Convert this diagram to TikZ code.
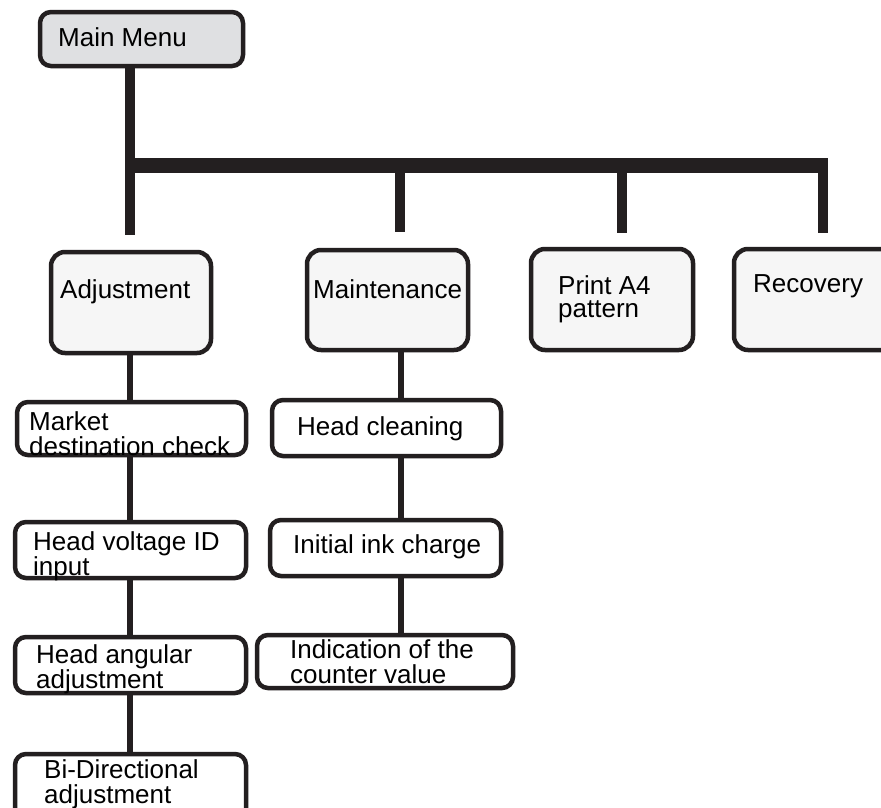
\documentclass[tikz,border=0pt]{standalone}
\usepackage{fontspec}
\setmainfont{Liberation Sans}
\definecolor{ink}{HTML}{231F20}
\definecolor{mainfill}{HTML}{DFE0E2}
\definecolor{topfill}{HTML}{F6F6F6}
\begin{document}
\begin{tikzpicture}[x=1pt,y=-1pt,
  box/.style={draw=ink,line width=4.5pt,rounded corners=11pt,inner sep=0pt},
  mainbox/.style={box,fill=mainfill},
  topbox/.style={box,fill=topfill,rounded corners=14pt},
  subbox/.style={box,fill=white},
  txt/.style={inner sep=0pt,anchor=base west,text=black,
    font=\fontsize{26}{23}\selectfont},
  thick bar/.style={draw=ink,line width=15pt},
  branch/.style={draw=ink,line width=10pt},
  link/.style={draw=ink,line width=6pt}]
\clip (0,0) rectangle (881,807);
\fill[white] (0,0) rectangle (881,807);

% boxes
\node[mainbox,minimum width=203pt,minimum height=54pt] (main) at (141.5,39) {};
\node[topbox,minimum width=160pt,minimum height=101pt] (adj) at (131,302.5) {};
\node[topbox,minimum width=161pt,minimum height=100pt] (maint) at (387.5,300) {};
\node[topbox,minimum width=162pt,minimum height=101pt] (print) at (612,299.5) {};
\node[topbox,minimum width=164pt,minimum height=101pt] (recov) at (816,299.5) {};

\node[subbox,minimum width=229pt,minimum height=53pt] (market) at (131.5,428.5) {};
\node[subbox,minimum width=231pt,minimum height=56pt] (volt) at (130.5,550) {};
\node[subbox,minimum width=231pt,minimum height=56pt] (angle) at (130.5,665) {};
\node[subbox,minimum width=231pt,minimum height=74pt] (bidir) at (130.5,791) {};

\node[subbox,minimum width=229pt,minimum height=56pt] (clean) at (386.5,428) {};
\node[subbox,minimum width=231pt,minimum height=56pt] (ink) at (385.5,548) {};
\node[subbox,minimum width=256pt,minimum height=53pt] (count) at (385,661.5) {};

% texts
\node[txt] (tmain) at (58,46) {Main Menu};
\node[txt] (tadj) at (60,298) {Adjustment};
\node[txt] (tmaint) at (313,298) {Maintenance};
\node[txt] (tprint) at (558,294) {\begin{tabular}[t]{@{}l@{}}Print A4\\pattern\end{tabular}};
\node[txt] (trecov) at (753,292) {Recovery};
\node[txt] (tmarket) at (29,430) {\begin{tabular}[t]{@{}l@{}}Market\\destination check\end{tabular}};
\node[txt] (tvolt) at (33,550) {\begin{tabular}[t]{@{}l@{}}Head voltage ID\\input\end{tabular}};
\node[txt] (tangle) at (36,663) {\begin{tabular}[t]{@{}l@{}}Head angular\\adjustment\end{tabular}};
\node[txt] (tbidir) at (44,778) {\begin{tabular}[t]{@{}l@{}}Bi-Directional\\adjustment\end{tabular}};
\node[txt] (tclean) at (297,435) {Head cleaning};
\node[txt] (tink) at (293,553) {Initial ink charge};
\node[txt] (tcount) at (290,658) {\begin{tabular}[t]{@{}l@{}}Indication of the\\counter value\end{tabular}};

% tree connectors
\coordinate (c1) at (130,165);
\coordinate (c2) at (400,165);
\coordinate (c3) at (622,165);
\coordinate (c4) at (823,165);
\coordinate (barend) at (828,165);
\coordinate (e1) at (130,235);
\coordinate (e2) at (400,232);
\coordinate (e3) at (622,233);
\coordinate (e4) at (823,233);
\coordinate (c4top) at (823,158);

\draw[branch] (main.south -| c1) -- (e1);
\draw[thick bar] (c1) -- (barend);
\draw[branch] (c2) -- (e2);
\draw[branch] (c3) -- (e3);
\draw[branch] (c4top) -- (e4);

% lower connectors
\coordinate (x1) at (130,0);
\coordinate (x2) at (400.5,0);
\draw[link] (adj.south -| x1) -- (market.north -| x1);
\draw[link] (market.south -| x1) -- (volt.north -| x1);
\draw[link] (volt.south -| x1) -- (angle.north -| x1);
\draw[link] (angle.south -| x1) -- (bidir.north -| x1);
\draw[link] (maint.south -| x2) -- (clean.north -| x2);
\draw[link] (clean.south -| x2) -- (ink.north -| x2);
\draw[link] (ink.south -| x2) -- (count.north -| x2);
\end{tikzpicture}
\end{document}
